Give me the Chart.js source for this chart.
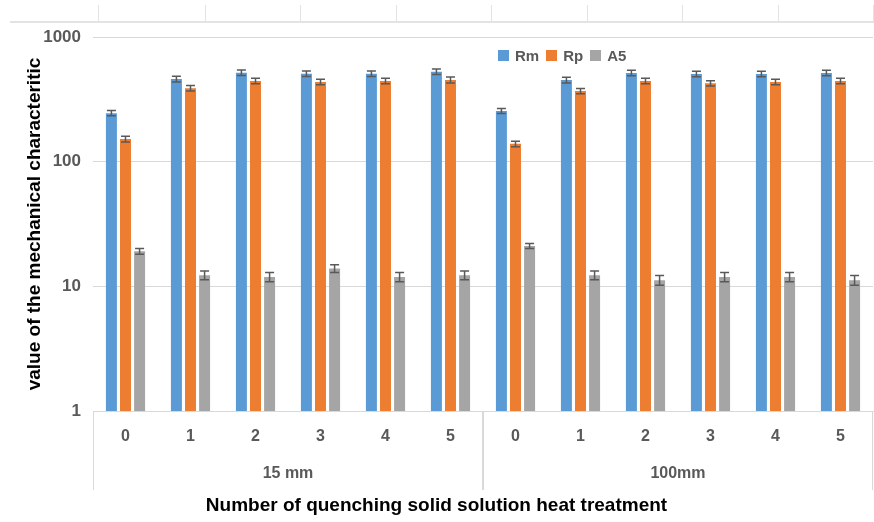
<!DOCTYPE html>
<html>
<head>
<meta charset="utf-8">
<script src="https://cdn.jsdelivr.net/npm/chart.js@4"></script>
<style>
  html, body { margin: 0; padding: 0; background: #fff; }
  #wrap { position: relative; width: 874px; height: 522px; }
  #legend { position: absolute; left: 498px; top: 47px; display: flex; font: bold 15px "Liberation Sans", Arial, sans-serif; color: #595959; }
  #legend span.item { display: flex; align-items: center; margin-right: 7px; }
  #legend span.box { width: 11px; height: 11px; margin-right: 6px; display: inline-block; }
</style>
</head>
<body>
<div id="wrap">
  <canvas id="chart" width="874" height="522"></canvas>
  <div id="legend"></div>
</div>
<script>
// Data
const groups = ['15 mm', '100mm'];
const steps = ['0', '1', '2', '3', '4', '5'];
const yTicks = [1, 10, 100, 1000];

const rmValues = [245, 460, 517, 508, 508, 527, 255, 452, 514, 505, 505, 514];
const rpValues = [152, 388, 444, 436, 444, 452, 139, 369, 444, 425, 436, 444];
const a5Values = [19.1, 12.3, 11.9, 13.9, 11.9, 12.3, 21.1, 12.3, 11.2, 11.9, 11.9, 11.2];

const rmErr = [12, 24, 27, 25, 25, 27, 12, 24, 26, 25, 25, 26];
const rpErr = [8, 20, 22, 22, 22, 25, 7, 18, 22, 21, 22, 22];
const a5Err = [1, 1, 1, 1, 1, 1, 1, 1, 1, 1, 1, 1];

const labels = groups.flatMap(() => steps);
const FONT = '"Liberation Sans", Arial, sans-serif';

const datasets = [
    { label: 'Rm', data: rmValues, err: rmErr, backgroundColor: '#5B9BD5' },
    { label: 'Rp', data: rpValues, err: rpErr, backgroundColor: '#ED7D31' },
    { label: 'A5', data: a5Values, err: a5Err, backgroundColor: '#A5A5A5' }
];

// error bars drawn through the y scale
const errorBars = {
    id: 'errorBars',
    afterDatasetsDraw(chart) {
        const ctx = chart.ctx;
        const y = chart.scales.y;
        ctx.save();
        ctx.strokeStyle = '#595959';
        ctx.lineWidth = 1.5;
        chart.data.datasets.forEach((ds, i) => {
            chart.getDatasetMeta(i).data.forEach((bar, j) => {
                const v = ds.data[j], e = ds.err[j];
                const yTop = y.getPixelForValue(v + e);
                const yBot = y.getPixelForValue(v - e);
                ctx.beginPath();
                ctx.moveTo(bar.x, yTop); ctx.lineTo(bar.x, yBot);
                ctx.moveTo(bar.x - 4.5, yTop); ctx.lineTo(bar.x + 4.5, yTop);
                ctx.moveTo(bar.x - 4.5, yBot); ctx.lineTo(bar.x + 4.5, yBot);
                ctx.stroke();
            });
        });
        ctx.restore();
    }
};

// two-level category axis: group separators and group names
const groupAxis = {
    id: 'groupAxis',
    afterDraw(chart) {
        const ctx = chart.ctx;
        const x = chart.scales.x;
        const area = chart.chartArea;
        const half = (x.getPixelForValue(1) - x.getPixelForValue(0)) / 2;
        ctx.save();
        ctx.strokeStyle = '#d9d9d9';
        ctx.lineWidth = 1;
        ctx.fillStyle = '#595959';
        ctx.font = 'bold 16px ' + FONT;
        ctx.textAlign = 'center';
        ctx.textBaseline = 'middle';
        groups.forEach((g, gi) => {
            const first = gi * steps.length;
            const last = first + steps.length - 1;
            const x0 = x.getPixelForValue(first) - half;
            const x1 = x.getPixelForValue(last) + half;
            ctx.beginPath();
            ctx.moveTo(Math.round(x0) + 0.5, area.bottom);
            ctx.lineTo(Math.round(x0) + 0.5, area.bottom + 79);
            ctx.moveTo(Math.round(x1) - 0.5, area.bottom);
            ctx.lineTo(Math.round(x1) - 0.5, area.bottom + 79);
            ctx.stroke();
            ctx.fillText(g, (x0 + x1) / 2, area.bottom + 63);
        });
        // clipped frame left over above the chart
        ctx.strokeStyle = '#e3e3e3';
        ctx.lineWidth = 2;
        ctx.beginPath();
        ctx.moveTo(10, 22); ctx.lineTo(874, 22);
        ctx.stroke();
        ctx.lineWidth = 1;
        ctx.beginPath();
        [98, 205, 300, 396, 491, 587, 682, 778, 873].forEach(px => {
            ctx.moveTo(px + 0.5, 5); ctx.lineTo(px + 0.5, 22);
        });
        ctx.stroke();
        ctx.restore();
    }
};

new Chart(document.getElementById('chart'), {
    type: 'bar',
    data: { labels: labels, datasets: datasets },
    options: {
        responsive: false,
        animation: false,
        layout: { padding: { top: 37, right: 1, left: 0, bottom: 0 } },
        plugins: {
            legend: { display: false },
            tooltip: { enabled: false },
            title: {
                display: true,
                position: 'bottom',
                text: 'Number of quenching solid solution heat treatment',
                color: '#000',
                font: { family: FONT, size: 19, weight: 'bold' },
                padding: { top: 3, bottom: 5 }
            }
        },
        datasets: { bar: { categoryPercentage: 0.65, barPercentage: 0.78 } },
        scales: {
            x: {
                grid: { display: false, drawTicks: false },
                border: { display: true, color: '#d9d9d9' },
                ticks: { color: '#595959', padding: 16, font: { family: FONT, size: 16, weight: 'bold' } },
                afterFit(scale) { scale.height = 80.2; }
            },
            y: {
                type: 'logarithmic',
                min: 1,
                max: 1000,
                afterBuildTicks(scale) { scale.ticks = yTicks.map(v => ({ value: v })); },
                grid: { color: '#d9d9d9', drawTicks: false },
                border: { display: false },
                ticks: {
                    color: '#595959',
                    padding: 12,
                    font: { family: FONT, size: 17, weight: 'bold' },
                    callback: v => String(v)
                },
                title: {
                    display: true,
                    text: 'value of the mechanical characteritic',
                    color: '#000',
                    font: { family: FONT, size: 19, weight: 'bold' },
                    padding: { top: 23 }
                },
                afterFit(scale) { scale.width = 93; }
            }
        }
    },
    plugins: [errorBars, groupAxis]
});

// html legend built from the datasets
const legend = document.getElementById('legend');
datasets.forEach(ds => {
    const item = document.createElement('span');
    item.className = 'item';
    item.innerHTML = '<span class="box" style="background:' + ds.backgroundColor + '"></span>' + ds.label;
    legend.appendChild(item);
});
</script>
</body>
</html>
